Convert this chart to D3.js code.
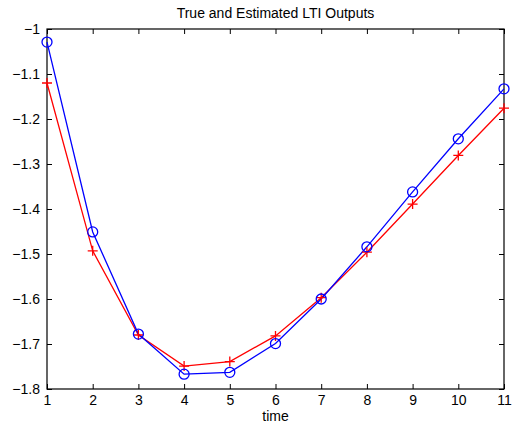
<!DOCTYPE html>
<html>
<head>
<meta charset="utf-8">
<script src="https://cdn.jsdelivr.net/npm/d3@7"></script>
<style>
  body { margin: 0; background: #fff; }
  text { font-family: "Liberation Sans", Arial, sans-serif; }
</style>
</head>
<body>
<svg id="chart" width="517" height="425"></svg>
<script>
const timeSteps = [1, 2, 3, 4, 5, 6, 7, 8, 9, 10, 11];
const trueOutput = [-1.029, -1.451, -1.678, -1.767, -1.763, -1.699, -1.600, -1.484, -1.362, -1.244, -1.133];
const estOutput = [-1.120, -1.493, -1.680, -1.749, -1.739, -1.682, -1.597, -1.496, -1.389, -1.281, -1.176];
const yTicks = [-1, -1.1, -1.2, -1.3, -1.4, -1.5, -1.6, -1.7, -1.8];

const svg = d3.select("#chart"),
    margin = {top: 29, right: 13, bottom: 36, left: 47},
    width = +svg.attr("width") - margin.left - margin.right,
    height = +svg.attr("height") - margin.top - margin.bottom;

const x = d3.scaleLinear().domain([1, 11]).range([0, width]);
const y = d3.scaleLinear().domain([-1.8, -1]).range([height, 0]);

const g = svg.append("g").attr("transform", `translate(${margin.left},${margin.top})`);

const fmt = d => d3.format("")(d).replace("-", "\u2212");
const tick = 5;

// axes: ticks pointing inward, box on all sides
function styleAxis(sel) {
    sel.select(".domain").remove();
    sel.selectAll("line").attr("stroke", "#000");
    sel.selectAll("text").attr("font-size", 14).attr("fill", "#000");
}

g.append("g")
    .attr("transform", `translate(0,${height})`)
    .call(d3.axisBottom(x).tickValues(timeSteps).tickSizeInner(-tick).tickSizeOuter(0).tickPadding(6))
    .call(styleAxis);

g.append("g")
    .call(d3.axisTop(x).tickValues(timeSteps).tickSizeInner(-tick).tickSizeOuter(0).tickFormat(""))
    .call(styleAxis);

g.append("g")
    .call(d3.axisLeft(y).tickValues(yTicks).tickSizeInner(-tick).tickSizeOuter(0).tickPadding(7).tickFormat(fmt))
    .call(styleAxis);

g.append("g")
    .attr("transform", `translate(${width},0)`)
    .call(d3.axisRight(y).tickValues(yTicks).tickSizeInner(-tick).tickSizeOuter(0).tickFormat(""))
    .call(styleAxis);

g.append("rect")
    .attr("width", width).attr("height", height)
    .attr("fill", "none").attr("stroke", "#000").attr("stroke-width", 1.2);

const line = d3.line().x((d, i) => x(timeSteps[i])).y(d => y(d));

g.append("path").datum(estOutput)
    .attr("d", line).attr("fill", "none").attr("stroke", "#ff0000").attr("stroke-width", 1.3);

g.append("path").datum(trueOutput)
    .attr("d", line).attr("fill", "none").attr("stroke", "#0000ff").attr("stroke-width", 1.3);

g.selectAll(".plus")
    .data(estOutput)
    .enter().append("path")
    .attr("class", "plus")
    .attr("transform", (d, i) => `translate(${x(timeSteps[i])},${y(d)})`)
    .attr("d", "M-5,0H5M0,-5V5")
    .attr("stroke", "#ff0000").attr("stroke-width", 1.3);

g.selectAll(".circ")
    .data(trueOutput)
    .enter().append("circle")
    .attr("class", "circ")
    .attr("cx", (d, i) => x(timeSteps[i]))
    .attr("cy", d => y(d))
    .attr("r", 5)
    .attr("fill", "none").attr("stroke", "#0000ff").attr("stroke-width", 1.3);

svg.append("text")
    .attr("x", margin.left + width / 2).attr("y", 18)
    .attr("text-anchor", "middle").attr("font-size", 14)
    .text("True and Estimated LTI Outputs");

svg.append("text")
    .attr("x", margin.left + width / 2).attr("y", 421)
    .attr("text-anchor", "middle").attr("font-size", 14)
    .text("time");
</script>
</body>
</html>
